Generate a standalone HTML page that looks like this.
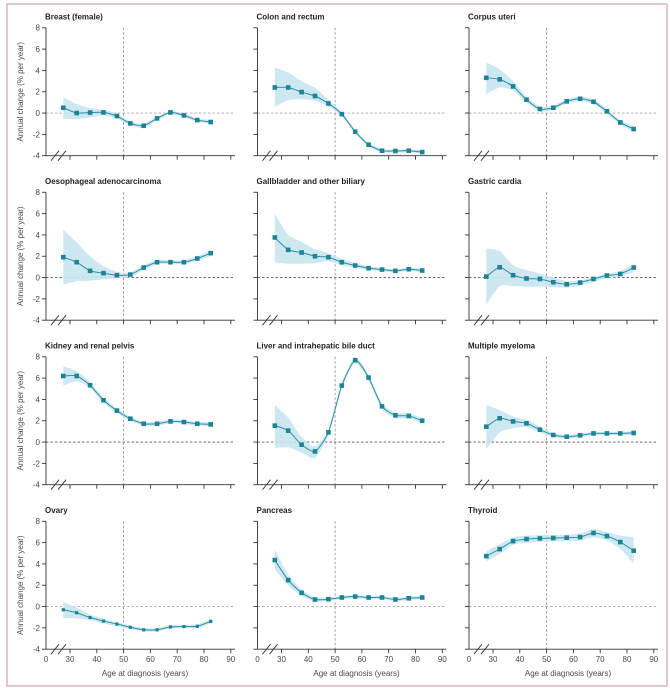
<!DOCTYPE html>
<html><head><meta charset="utf-8">
<style>html,body{margin:0;padding:0;background:#fff}svg{display:block}</style>
</head><body>
<svg id="s" width="670" height="688" viewBox="0 0 670 688" xmlns="http://www.w3.org/2000/svg" font-family="'Liberation Sans', Arial, sans-serif">
<rect x="0" y="0" width="670" height="688" fill="#fff"/>
<rect x="7" y="4" width="660" height="682" fill="none" stroke="#d6b6be" stroke-width="1.5"/>
<g id="g"></g>
<g font-weight="bold" font-size="8" fill="#231f20">
<text x="45" y="19.7">Breast (female)</text>
<text x="256.5" y="19.7">Colon and rectum</text>
<text x="468" y="19.7">Corpus uteri</text>
<text x="45" y="184.2">Oesophageal adenocarcinoma</text>
<text x="256.5" y="184.2">Gallbladder and other biliary</text>
<text x="468" y="184.2">Gastric cardia</text>
<text x="45" y="348.7">Kidney and renal pelvis</text>
<text x="256.5" y="348.7">Liver and intrahepatic bile duct</text>
<text x="468" y="348.7">Multiple myeloma</text>
<text x="45" y="513.2">Ovary</text>
<text x="256.5" y="513.2">Pancreas</text>
<text x="468" y="513.2">Thyroid</text>
</g>
<g font-size="8" fill="#4a4a4a" text-anchor="end">
<text x="40" y="30.7">8</text><text x="40" y="52.0">6</text><text x="40" y="73.3">4</text><text x="40" y="94.6">2</text><text x="40" y="116.0">0</text><text x="40" y="137.3">-2</text><text x="40" y="158.6">-4</text>
<text x="40" y="195.2">8</text><text x="40" y="216.5">6</text><text x="40" y="237.8">4</text><text x="40" y="259.1">2</text><text x="40" y="280.5">0</text><text x="40" y="301.8">-2</text><text x="40" y="323.1">-4</text>
<text x="40" y="359.7">8</text><text x="40" y="381.0">6</text><text x="40" y="402.3">4</text><text x="40" y="423.6">2</text><text x="40" y="445.0">0</text><text x="40" y="466.3">-2</text><text x="40" y="487.6">-4</text>
<text x="40" y="524.2">8</text><text x="40" y="545.5">6</text><text x="40" y="566.8">4</text><text x="40" y="588.1">2</text><text x="40" y="609.5">0</text><text x="40" y="630.8">-2</text><text x="40" y="652.1">-4</text>
</g>
<g font-size="8" fill="#4a4a4a" text-anchor="middle">
<text transform="translate(23,91.7) rotate(-90)">Annual change (% per year)</text>
<text transform="translate(23,256.2) rotate(-90)">Annual change (% per year)</text>
<text transform="translate(23,420.7) rotate(-90)">Annual change (% per year)</text>
<text transform="translate(23,585.2) rotate(-90)">Annual change (% per year)</text>
<text x="46" y="662.2">0</text><text x="70" y="662.2">30</text><text x="96.8" y="662.2">40</text><text x="123.6" y="662.2">50</text><text x="150.4" y="662.2">60</text><text x="177.2" y="662.2">70</text><text x="204" y="662.2">80</text><text x="230.8" y="662.2">90</text>
<text x="257.5" y="662.2">0</text><text x="281.5" y="662.2">30</text><text x="308.3" y="662.2">40</text><text x="335.1" y="662.2">50</text><text x="361.9" y="662.2">60</text><text x="388.7" y="662.2">70</text><text x="415.5" y="662.2">80</text><text x="442.3" y="662.2">90</text>
<text x="469" y="662.2">0</text><text x="493" y="662.2">30</text><text x="519.8" y="662.2">40</text><text x="546.6" y="662.2">50</text><text x="573.4" y="662.2">60</text><text x="600.2" y="662.2">70</text><text x="627" y="662.2">80</text><text x="653.8" y="662.2">90</text>
<text x="145" y="676.2">Age at diagnosis (years)</text>
<text x="356.5" y="676.2">Age at diagnosis (years)</text>
<text x="568" y="676.2">Age at diagnosis (years)</text>
</g>
</svg>
<script>
(function(){
var NS="http://www.w3.org/2000/svg";
var g=document.getElementById("g");
var cols=[46,257.5,469], B=[155.7,320.2,484.7,649.2];
function X(c,a){return a<=0?cols[c]:cols[c]+24+(a-30)*2.68;}
function Y(r,v){return B[r]-(v+4)*10.66;}
function el(n,at){var e=document.createElementNS(NS,n);for(var k in at)e.setAttribute(k,at[k]);g.appendChild(e);return e;}
function f(n){return n.toFixed(2);}
function cr(p){var k=9;var d="M"+f(p[0][0])+","+f(p[0][1]);for(var i=0;i<p.length-1;i++){var p0=p[i-1]||p[i],p1=p[i],p2=p[i+1],p3=p[i+2]||p2;var c1=[p1[0]+(p2[0]-p0[0])/k,p1[1]+(p2[1]-p0[1])/k];var c2=[p2[0]-(p3[0]-p1[0])/k,p2[1]-(p3[1]-p1[1])/k];d+=" C"+f(c1[0])+","+f(c1[1])+" "+f(c2[0])+","+f(c2[1])+" "+f(p2[0])+","+f(p2[1]);}return d;}
var P=[
[0,0,[0.5,0.0,0.05,0.06,-0.28,-0.97,-1.19,-0.5,0.06,-0.22,-0.66,-0.84],[1.5,0.85,0.47,0.3,-0.05,-0.78,-1.0,-0.33,0.22,-0.06,-0.5,-0.66],[-0.56,-0.58,-0.4,-0.22,-0.5,-1.16,-1.38,-0.67,-0.1,-0.38,-0.82,-1.02]],
[0,1,[2.4,2.4,1.97,1.6,0.9,-0.1,-1.75,-2.97,-3.53,-3.56,-3.53,-3.66],[4.28,3.8,3.0,2.35,1.25,0.1,-1.55,-2.8,-3.38,-3.42,-3.38,-3.5],[0.6,1.2,1.3,1.15,0.6,-0.3,-1.95,-3.15,-3.68,-3.7,-3.68,-3.82]],
[0,2,[3.31,3.16,2.5,1.25,0.38,0.5,1.1,1.34,1.06,0.16,-0.88,-1.5],[4.75,4.1,3.0,1.55,0.6,0.72,1.3,1.55,1.28,0.38,-0.65,-1.25],[1.78,2.4,2.1,1.0,0.15,0.28,0.9,1.12,0.84,-0.06,-1.1,-1.75]],
[1,0,[1.91,1.44,0.63,0.41,0.22,0.28,0.94,1.44,1.44,1.44,1.79,2.29],[4.5,3.3,2.0,1.1,0.55,0.5,1.15,1.65,1.62,1.62,2.0,2.55],[-0.66,-0.35,-0.3,-0.15,-0.05,0.05,0.72,1.25,1.26,1.26,1.58,2.03]],
[1,1,[3.76,2.6,2.35,2.0,1.91,1.44,1.13,0.88,0.75,0.63,0.78,0.66],[6.0,4.0,3.35,2.65,2.3,1.75,1.35,1.05,0.9,0.78,0.93,0.82],[1.41,1.3,1.3,1.35,1.55,1.15,0.92,0.71,0.6,0.48,0.63,0.5]],
[1,2,[0.09,0.97,0.22,-0.09,-0.13,-0.44,-0.63,-0.47,-0.13,0.19,0.34,0.94],[2.73,2.48,1.16,0.7,0.38,0.0,-0.35,-0.25,0.05,0.38,0.6,1.25],[-2.54,-0.8,-0.8,-0.85,-0.85,-0.9,-0.95,-0.75,-0.4,-0.05,0.1,0.55]],
[2,0,[6.2,6.2,5.33,3.92,2.95,2.19,1.72,1.72,1.94,1.88,1.72,1.66],[7.1,6.65,5.6,4.15,3.15,2.38,1.9,1.9,2.12,2.06,1.9,1.85],[5.3,5.7,5.05,3.7,2.75,2.0,1.54,1.54,1.76,1.7,1.54,1.47]],
[2,1,[1.54,1.07,-0.25,-0.88,0.91,5.3,7.68,6.05,3.35,2.51,2.45,2.0],[3.5,2.3,0.5,-0.4,1.15,5.55,7.95,6.3,3.65,2.75,2.7,2.25],[-0.56,-0.5,-1.0,-1.5,0.65,5.05,7.4,5.8,3.05,2.27,2.2,1.75]],
[2,2,[1.44,2.23,1.94,1.76,1.16,0.66,0.5,0.63,0.81,0.81,0.81,0.85],[3.5,3.0,2.4,2.1,1.45,0.85,0.68,0.8,0.97,0.97,0.97,1.02],[-0.66,0.9,1.3,1.4,0.9,0.47,0.33,0.46,0.65,0.65,0.65,0.68]],
[3,0,[-0.3,-0.58,-1.03,-1.36,-1.64,-1.94,-2.18,-2.18,-1.91,-1.88,-1.85,-1.39],[0.44,-0.1,-0.75,-1.15,-1.45,-1.78,-2.02,-2.02,-1.75,-1.72,-1.68,-1.2],[-1.1,-1.1,-1.3,-1.58,-1.83,-2.1,-2.34,-2.34,-2.07,-2.04,-2.02,-1.58],1],
[3,1,[4.36,2.48,1.29,0.66,0.69,0.85,0.94,0.85,0.85,0.66,0.78,0.85],[5.4,3.0,1.6,0.9,0.85,1.0,1.1,1.0,1.0,0.82,0.94,1.02],[3.5,2.0,1.0,0.45,0.53,0.7,0.78,0.7,0.7,0.5,0.62,0.68]],
[3,2,[4.73,5.39,6.14,6.33,6.39,6.43,6.46,6.52,6.9,6.61,6.05,5.24],[5.2,5.85,6.5,6.65,6.7,6.72,6.75,6.85,7.27,7.0,6.65,6.5],[4.23,4.95,5.8,6.0,6.08,6.12,6.15,6.18,6.5,6.2,5.4,4.04]]
];
for(var r=0;r<4;r++)for(var c=0;c<3;c++){
 var x0=cols[c],b=B[r],top=Y(r,8);
 var zc=(r==1||r==2)?"#555":"#a8a8a8";
 el("line",{x1:x0,y1:f(Y(r,0)),x2:x0+189,y2:f(Y(r,0)),stroke:zc,"stroke-width":0.8,"stroke-dasharray":"2.5,2"});
 el("line",{x1:f(X(c,50)),y1:f(top),x2:f(X(c,50)),y2:b,stroke:"#8a8a8a","stroke-width":0.8,"stroke-dasharray":"2.5,2"});
}
P.forEach(function(p){
 var r=p[0],c=p[1],ages=[];for(var i=0;i<12;i++)ages.push(27.5+5*i);
 var up=ages.map(function(a,i){return [X(c,a),Y(r,p[3][i])];});
 var lo=ages.map(function(a,i){return [X(c,a),Y(r,p[4][i])];}).reverse();
 el("path",{d:cr(up)+" "+cr(lo).replace("M","L")+" Z",fill:"#c9e6f1","fill-opacity":0.9,stroke:"none"});
});
for(var r=0;r<4;r++)for(var c=0;c<3;c++){
 var x0=cols[c],b=B[r],top=Y(r,8);
 el("line",{x1:x0,y1:f(top),x2:x0,y2:b,stroke:"#333","stroke-width":0.9});
 el("line",{x1:x0,y1:b,x2:x0+189,y2:b,stroke:"#333","stroke-width":0.9});
 for(var v=-4;v<=8;v+=2)el("line",{x1:x0-4,y1:f(Y(r,v)),x2:x0,y2:f(Y(r,v)),stroke:"#333","stroke-width":0.9});
 for(var a=30;a<=90;a+=10)el("line",{x1:f(X(c,a)),y1:b,x2:f(X(c,a)),y2:b+4,stroke:"#333","stroke-width":0.9});
 el("line",{x1:x0+5,y1:b+5,x2:x0+13,y2:b-5,stroke:"#333","stroke-width":0.9});
 el("line",{x1:x0+12,y1:b+5,x2:x0+20,y2:b-5,stroke:"#333","stroke-width":0.9});
}
P.forEach(function(p){
 var r=p[0],c=p[1],pts=[];for(var i=0;i<12;i++)pts.push([X(c,27.5+5*i),Y(r,p[2][i])]);
 el("path",{d:cr(pts),fill:"none",stroke:"#2f8ea2","stroke-width":1});
 var s=p[5]?3.2:4.6;
 pts.forEach(function(q){el("rect",{x:f(q[0]-s/2),y:f(q[1]-s/2),width:s,height:s,fill:"#1b8497"});});
});
})();
</script>
</body></html>
